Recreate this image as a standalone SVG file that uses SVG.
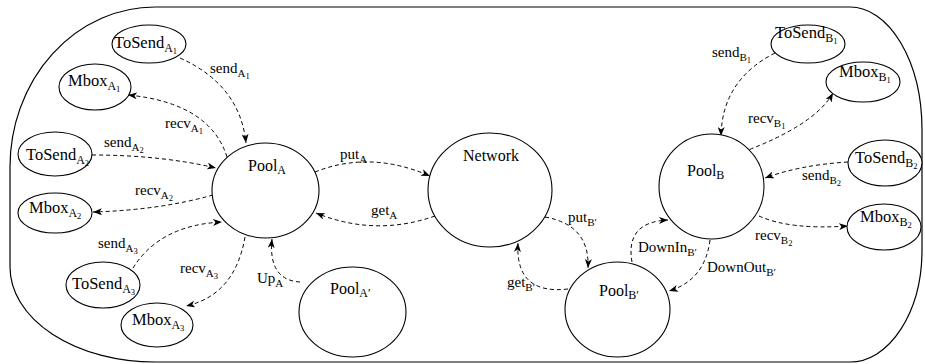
<svg xmlns="http://www.w3.org/2000/svg" width="925" height="364" viewBox="0 0 925 364">
<style>
text{font-family:"Liberation Serif","Times New Roman",serif;font-size:15px;fill:#000}
.L{font-size:16.5px}
.P{font-size:16px}
.s{font-size:11px}
.L .s,.P .s{font-size:12px}
.ss{font-size:8.5px}
.n{fill:#fff;stroke:#000;stroke-width:1.1}
.c{fill:none;stroke:#000;stroke-width:1;stroke-dasharray:4 3}
</style>
<defs>
<marker id="ah" markerUnits="userSpaceOnUse" markerWidth="10" markerHeight="7" refX="9" refY="3.5" orient="auto">
<path d="M0,0 L9,3.5 L0,7 L2.5,3.5 z" fill="#000"/>
</marker>
</defs>
<path d="M155,7 L850,7 A72,123 0 0 1 922,130 L922,250 A72,112 0 0 1 850,362 L155,362 A145,95 0 0 1 10,267 L10,167 A145,160 0 0 1 155,7 Z" fill="#fff" stroke="#000" stroke-width="1.2"/>
<g id="connectors">
<path class="c" marker-end="url(#ah)" d="M180,58 Q240,85 246,143"/>
<path class="c" marker-end="url(#ah)" d="M227,157 Q210,103 128,95"/>
<path class="c" marker-end="url(#ah)" d="M92,155 Q160,155 216,168"/>
<path class="c" marker-end="url(#ah)" d="M213,195 Q160,210 93,212"/>
<path class="c" marker-end="url(#ah)" d="M133,268 Q160,225 222,222"/>
<path class="c" marker-end="url(#ah)" d="M245,237 Q235,295 186,306"/>
<path class="c" marker-end="url(#ah)" d="M300,282 Q268,280 272,239"/>
<path class="c" marker-end="url(#ah)" d="M315,172 Q370,150 430,176"/>
<path class="c" marker-end="url(#ah)" d="M435,216 Q375,237 316,213"/>
<path class="c" marker-end="url(#ah)" d="M545,217 Q590,225 588,268"/>
<path class="c" marker-end="url(#ah)" d="M568,289 Q515,295 518,243"/>
<path class="c" marker-end="url(#ah)" d="M775,53 Q722,80 721,136"/>
<path class="c" marker-end="url(#ah)" d="M743,152 Q815,125 833,93"/>
<path class="c" marker-end="url(#ah)" d="M848,162 Q800,165 765,178"/>
<path class="c" marker-end="url(#ah)" d="M759,216 Q790,230 848,226"/>
<path class="c" marker-end="url(#ah)" d="M632,262 Q625,222 668,220"/>
<path class="c" marker-end="url(#ah)" d="M710,240 Q705,280 669,291"/>
<text x="210" y="73">send<tspan class="s" dy="4">A</tspan><tspan class="ss" dy="2">1</tspan></text>
<text x="165" y="128">recv<tspan class="s" dy="4">A</tspan><tspan class="ss" dy="2">1</tspan></text>
<text x="104" y="147">send<tspan class="s" dy="4">A</tspan><tspan class="ss" dy="2">2</tspan></text>
<text x="135" y="195">recv<tspan class="s" dy="4">A</tspan><tspan class="ss" dy="2">2</tspan></text>
<text x="98" y="248">send<tspan class="s" dy="4">A</tspan><tspan class="ss" dy="2">3</tspan></text>
<text x="180" y="273">recv<tspan class="s" dy="4">A</tspan><tspan class="ss" dy="2">3</tspan></text>
<text x="257" y="283">Up<tspan class="s" dy="4">A</tspan></text>
<text x="340" y="159">put<tspan class="s" dy="4">A</tspan></text>
<text x="371" y="215">get<tspan class="s" dy="4">A</tspan></text>
<text x="568" y="222">put<tspan class="s" dy="4">B′</tspan></text>
<text x="507" y="287">get<tspan class="s" dy="4">B′</tspan></text>
<text x="712" y="57">send<tspan class="s" dy="4">B</tspan><tspan class="ss" dy="2">1</tspan></text>
<text x="748" y="123">recv<tspan class="s" dy="4">B</tspan><tspan class="ss" dy="2">1</tspan></text>
<text x="802" y="180">send<tspan class="s" dy="4">B</tspan><tspan class="ss" dy="2">2</tspan></text>
<text x="755" y="240">recv<tspan class="s" dy="4">B</tspan><tspan class="ss" dy="2">2</tspan></text>
<text x="638" y="252">DownIn<tspan class="s" dy="4">B′</tspan></text>
<text x="707" y="272">DownOut<tspan class="s" dy="4">B′</tspan></text>
</g>
<g id="ToSendA1"><ellipse class="n" cx="149" cy="44" rx="37" ry="19"/><text class="L" x="114" y="48">ToSend<tspan class="s" dy="4">A</tspan><tspan class="ss" dy="2">1</tspan></text></g>
<g id="MboxA1"><ellipse class="n" cx="95" cy="87" rx="36" ry="23"/><text class="L" x="68" y="86">Mbox<tspan class="s" dy="4">A</tspan><tspan class="ss" dy="2">1</tspan></text></g>
<g id="ToSendA2"><ellipse class="n" cx="55" cy="154" rx="37" ry="22"/><text class="L" x="26" y="160">ToSend<tspan class="s" dy="4">A</tspan><tspan class="ss" dy="2">2</tspan></text></g>
<g id="MboxA2"><ellipse class="n" cx="55" cy="213" rx="37" ry="20"/><text class="L" x="29" y="213">Mbox<tspan class="s" dy="4">A</tspan><tspan class="ss" dy="2">2</tspan></text></g>
<g id="ToSendA3"><ellipse class="n" cx="103" cy="285" rx="37" ry="23"/><text class="L" x="72" y="289">ToSend<tspan class="s" dy="4">A</tspan><tspan class="ss" dy="2">3</tspan></text></g>
<g id="MboxA3"><ellipse class="n" cx="157" cy="325" rx="36" ry="22"/><text class="L" x="132" y="325">Mbox<tspan class="s" dy="4">A</tspan><tspan class="ss" dy="2">3</tspan></text></g>
<g id="PoolA"><ellipse class="n" cx="265.5" cy="190.5" rx="53.5" ry="47.5"/><text class="P" x="248" y="171">Pool<tspan class="s" dy="3">A</tspan></text></g>
<g id="PoolA2"><ellipse class="n" cx="352.5" cy="312" rx="53.5" ry="45"/><text class="P" x="330" y="294">Pool<tspan class="s" dy="3">A′</tspan></text></g>
<g id="Network"><ellipse class="n" cx="490" cy="190" rx="62" ry="57"/><text class="P" x="463" y="161">Network</text></g>
<g id="PoolB2"><ellipse class="n" cx="617.5" cy="309.5" rx="52.5" ry="47.5"/><text class="P" x="599" y="296">Pool<tspan class="s" dy="3">B′</tspan></text></g>
<g id="PoolB"><ellipse class="n" cx="711.5" cy="186.5" rx="52.5" ry="52.5"/><text class="P" x="687" y="176">Pool<tspan class="s" dy="3">B</tspan></text></g>
<g id="ToSendB1"><ellipse class="n" cx="808" cy="44" rx="37" ry="19"/><text class="L" x="775" y="38">ToSend<tspan class="s" dy="4">B</tspan><tspan class="ss" dy="2">1</tspan></text></g>
<g id="MboxB1"><ellipse class="n" cx="863" cy="82" rx="37" ry="20"/><text class="L" x="839" y="77">Mbox<tspan class="s" dy="4">B</tspan><tspan class="ss" dy="2">1</tspan></text></g>
<g id="ToSendB2"><ellipse class="n" cx="885" cy="163" rx="37" ry="23"/><text class="L" x="855" y="163">ToSend<tspan class="s" dy="4">B</tspan><tspan class="ss" dy="2">2</tspan></text></g>
<g id="MboxB2"><ellipse class="n" cx="884" cy="227" rx="37" ry="23"/><text class="L" x="860" y="222">Mbox<tspan class="s" dy="4">B</tspan><tspan class="ss" dy="2">2</tspan></text></g>
</svg>
